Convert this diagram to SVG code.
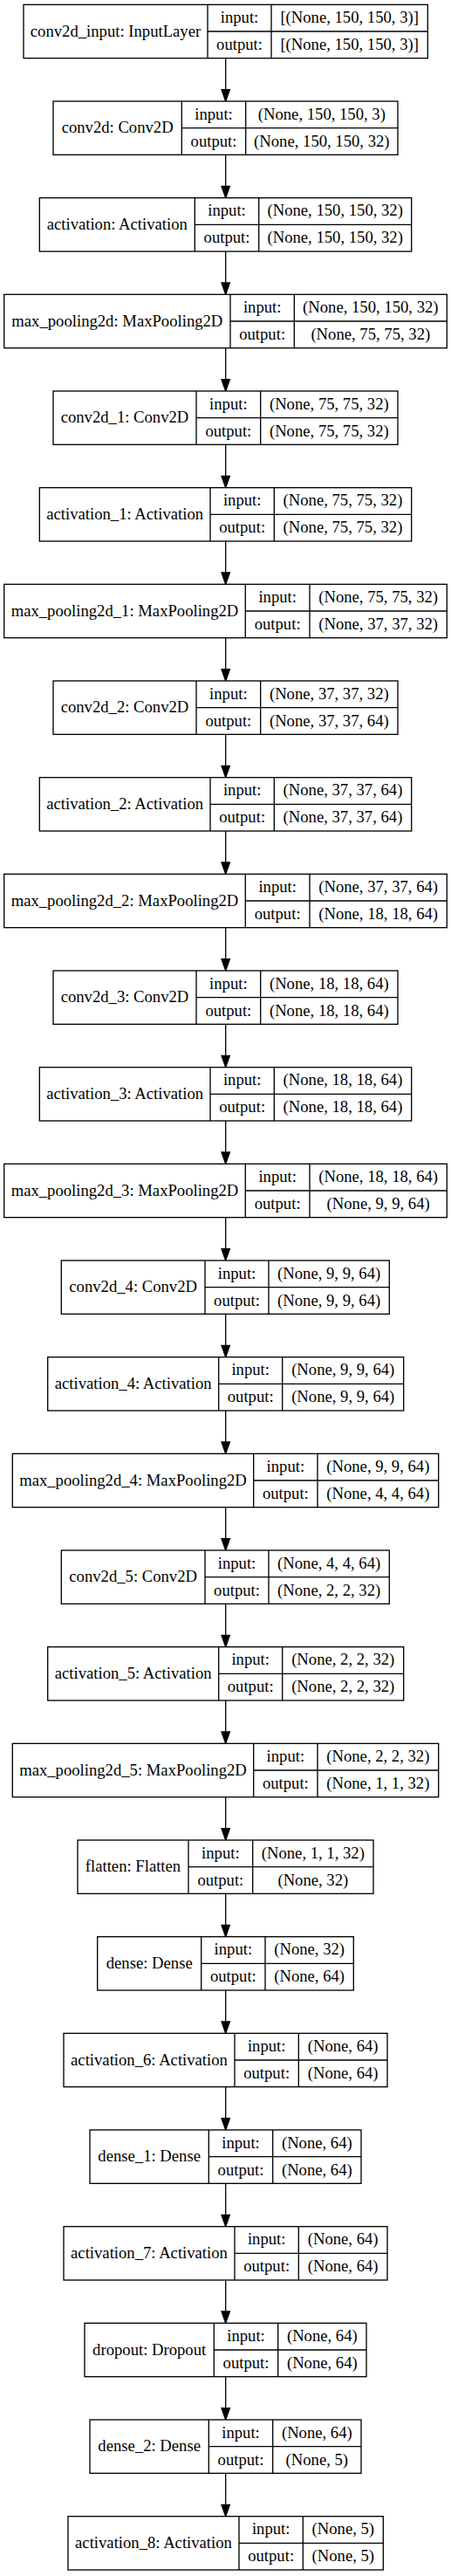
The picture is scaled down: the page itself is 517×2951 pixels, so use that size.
<svg xmlns="http://www.w3.org/2000/svg" width="517" height="2951" viewBox="0 0 517 2951">
<style>
.bg{fill:#fff}
.box{fill:#fff;stroke:#000;stroke-width:1.33}
.sep{stroke:#000;stroke-width:1.33;fill:none}
.edge{stroke:#000;stroke-width:1.33;fill:none;marker-end:url(#arr)}
text{font-family:"Liberation Serif","Times New Roman",serif;font-size:18.67px;text-anchor:middle;fill:#000}
</style>
<defs>
<marker id="arr" markerUnits="userSpaceOnUse" markerWidth="16" markerHeight="12" viewBox="-1 -1 16 12" refX="13.33" refY="4.67" orient="auto" overflow="visible">
<path d="M0,0 L13.33,4.67 L0,9.33 Z" fill="#000" stroke="#000" stroke-width="1.33"/>
</marker>
</defs>
<rect class="bg" x="0" y="0" width="517" height="2951"/>
<g id="edges">
<line class="edge" x1="258.67" y1="66.67" x2="258.67" y2="116.0"/>
<line class="edge" x1="258.67" y1="177.33" x2="258.67" y2="226.67"/>
<line class="edge" x1="258.67" y1="288.0" x2="258.67" y2="337.33"/>
<line class="edge" x1="258.67" y1="398.67" x2="258.67" y2="448.0"/>
<line class="edge" x1="258.67" y1="509.33" x2="258.67" y2="558.67"/>
<line class="edge" x1="258.67" y1="620.0" x2="258.67" y2="669.33"/>
<line class="edge" x1="258.67" y1="730.67" x2="258.67" y2="780.0"/>
<line class="edge" x1="258.67" y1="841.33" x2="258.67" y2="890.67"/>
<line class="edge" x1="258.67" y1="952.0" x2="258.67" y2="1001.33"/>
<line class="edge" x1="258.67" y1="1062.67" x2="258.67" y2="1112.0"/>
<line class="edge" x1="258.67" y1="1173.33" x2="258.67" y2="1222.67"/>
<line class="edge" x1="258.67" y1="1284.0" x2="258.67" y2="1333.33"/>
<line class="edge" x1="258.67" y1="1394.67" x2="258.67" y2="1444.0"/>
<line class="edge" x1="258.67" y1="1505.33" x2="258.67" y2="1554.67"/>
<line class="edge" x1="258.67" y1="1616.0" x2="258.67" y2="1665.33"/>
<line class="edge" x1="258.67" y1="1726.67" x2="258.67" y2="1776.0"/>
<line class="edge" x1="258.67" y1="1837.33" x2="258.67" y2="1886.67"/>
<line class="edge" x1="258.67" y1="1948.0" x2="258.67" y2="1997.33"/>
<line class="edge" x1="258.67" y1="2058.67" x2="258.67" y2="2108.0"/>
<line class="edge" x1="258.67" y1="2169.33" x2="258.67" y2="2218.67"/>
<line class="edge" x1="258.67" y1="2280.0" x2="258.67" y2="2329.33"/>
<line class="edge" x1="258.67" y1="2390.67" x2="258.67" y2="2440.0"/>
<line class="edge" x1="258.67" y1="2501.33" x2="258.67" y2="2550.67"/>
<line class="edge" x1="258.67" y1="2612.0" x2="258.67" y2="2661.33"/>
<line class="edge" x1="258.67" y1="2722.67" x2="258.67" y2="2772.0"/>
<line class="edge" x1="258.67" y1="2833.33" x2="258.67" y2="2882.67"/>
</g>

<g id="conv2d_input" transform="translate(0,5.33)">
<rect class="box" x="27" y="0" width="463.3" height="61.33"/>
<path class="sep" d="M238,0V61.33M311,0V61.33M238,30.67H490.3"/>
<text x="132.5" y="36.2">conv2d_input: InputLayer</text>
<text x="274.5" y="20.8">input:</text><text x="274.5" y="51.5">output:</text>
<text x="400.65" y="20.8">[(None, 150, 150, 3)]</text><text x="400.65" y="51.5">[(None, 150, 150, 3)]</text>
</g>

<g id="conv2d" transform="translate(0,116.0)">
<rect class="box" x="61" y="0" width="395" height="61.33"/>
<path class="sep" d="M208.3,0V61.33M281.7,0V61.33M208.3,30.67H456"/>
<text x="134.65" y="36.2">conv2d: Conv2D</text>
<text x="245" y="20.8">input:</text><text x="245" y="51.5">output:</text>
<text x="368.85" y="20.8">(None, 150, 150, 3)</text><text x="368.85" y="51.5">(None, 150, 150, 32)</text>
</g>

<g id="activation" transform="translate(0,226.67)">
<rect class="box" x="45.3" y="0" width="426.4" height="61.33"/>
<path class="sep" d="M223.3,0V61.33M296.7,0V61.33M223.3,30.67H471.7"/>
<text x="134.3" y="36.2">activation: Activation</text>
<text x="260" y="20.8">input:</text><text x="260" y="51.5">output:</text>
<text x="384.2" y="20.8">(None, 150, 150, 32)</text><text x="384.2" y="51.5">(None, 150, 150, 32)</text>
</g>

<g id="max_pooling2d" transform="translate(0,337.33)">
<rect class="box" x="4.7" y="0" width="507.6" height="61.33"/>
<path class="sep" d="M264,0V61.33M337.3,0V61.33M264,30.67H512.3"/>
<text x="134.35" y="36.2">max_pooling2d: MaxPooling2D</text>
<text x="300.65" y="20.8">input:</text><text x="300.65" y="51.5">output:</text>
<text x="424.8" y="20.8">(None, 150, 150, 32)</text><text x="424.8" y="51.5">(None, 75, 75, 32)</text>
</g>

<g id="conv2d_1" transform="translate(0,448.0)">
<rect class="box" x="61" y="0" width="395" height="61.33"/>
<path class="sep" d="M225,0V61.33M298.7,0V61.33M225,30.67H456"/>
<text x="143" y="36.2">conv2d_1: Conv2D</text>
<text x="261.85" y="20.8">input:</text><text x="261.85" y="51.5">output:</text>
<text x="377.35" y="20.8">(None, 75, 75, 32)</text><text x="377.35" y="51.5">(None, 75, 75, 32)</text>
</g>

<g id="activation_1" transform="translate(0,558.67)">
<rect class="box" x="45.3" y="0" width="426.4" height="61.33"/>
<path class="sep" d="M241,0V61.33M314.3,0V61.33M241,30.67H471.7"/>
<text x="143.15" y="36.2">activation_1: Activation</text>
<text x="277.65" y="20.8">input:</text><text x="277.65" y="51.5">output:</text>
<text x="393" y="20.8">(None, 75, 75, 32)</text><text x="393" y="51.5">(None, 75, 75, 32)</text>
</g>

<g id="max_pooling2d_1" transform="translate(0,669.33)">
<rect class="box" x="4.7" y="0" width="507.6" height="61.33"/>
<path class="sep" d="M281.3,0V61.33M355,0V61.33M281.3,30.67H512.3"/>
<text x="143" y="36.2">max_pooling2d_1: MaxPooling2D</text>
<text x="318.15" y="20.8">input:</text><text x="318.15" y="51.5">output:</text>
<text x="433.65" y="20.8">(None, 75, 75, 32)</text><text x="433.65" y="51.5">(None, 37, 37, 32)</text>
</g>

<g id="conv2d_2" transform="translate(0,780.0)">
<rect class="box" x="61" y="0" width="395" height="61.33"/>
<path class="sep" d="M225,0V61.33M298.7,0V61.33M225,30.67H456"/>
<text x="143" y="36.2">conv2d_2: Conv2D</text>
<text x="261.85" y="20.8">input:</text><text x="261.85" y="51.5">output:</text>
<text x="377.35" y="20.8">(None, 37, 37, 32)</text><text x="377.35" y="51.5">(None, 37, 37, 64)</text>
</g>

<g id="activation_2" transform="translate(0,890.67)">
<rect class="box" x="45.3" y="0" width="426.4" height="61.33"/>
<path class="sep" d="M241,0V61.33M314.3,0V61.33M241,30.67H471.7"/>
<text x="143.15" y="36.2">activation_2: Activation</text>
<text x="277.65" y="20.8">input:</text><text x="277.65" y="51.5">output:</text>
<text x="393" y="20.8">(None, 37, 37, 64)</text><text x="393" y="51.5">(None, 37, 37, 64)</text>
</g>

<g id="max_pooling2d_2" transform="translate(0,1001.33)">
<rect class="box" x="4.7" y="0" width="507.6" height="61.33"/>
<path class="sep" d="M281.3,0V61.33M355,0V61.33M281.3,30.67H512.3"/>
<text x="143" y="36.2">max_pooling2d_2: MaxPooling2D</text>
<text x="318.15" y="20.8">input:</text><text x="318.15" y="51.5">output:</text>
<text x="433.65" y="20.8">(None, 37, 37, 64)</text><text x="433.65" y="51.5">(None, 18, 18, 64)</text>
</g>

<g id="conv2d_3" transform="translate(0,1112.0)">
<rect class="box" x="61" y="0" width="395" height="61.33"/>
<path class="sep" d="M225,0V61.33M298.7,0V61.33M225,30.67H456"/>
<text x="143" y="36.2">conv2d_3: Conv2D</text>
<text x="261.85" y="20.8">input:</text><text x="261.85" y="51.5">output:</text>
<text x="377.35" y="20.8">(None, 18, 18, 64)</text><text x="377.35" y="51.5">(None, 18, 18, 64)</text>
</g>

<g id="activation_3" transform="translate(0,1222.67)">
<rect class="box" x="45.3" y="0" width="426.4" height="61.33"/>
<path class="sep" d="M241,0V61.33M314.3,0V61.33M241,30.67H471.7"/>
<text x="143.15" y="36.2">activation_3: Activation</text>
<text x="277.65" y="20.8">input:</text><text x="277.65" y="51.5">output:</text>
<text x="393" y="20.8">(None, 18, 18, 64)</text><text x="393" y="51.5">(None, 18, 18, 64)</text>
</g>

<g id="max_pooling2d_3" transform="translate(0,1333.33)">
<rect class="box" x="4.7" y="0" width="507.6" height="61.33"/>
<path class="sep" d="M281.3,0V61.33M355,0V61.33M281.3,30.67H512.3"/>
<text x="143" y="36.2">max_pooling2d_3: MaxPooling2D</text>
<text x="318.15" y="20.8">input:</text><text x="318.15" y="51.5">output:</text>
<text x="433.65" y="20.8">(None, 18, 18, 64)</text><text x="433.65" y="51.5">(None, 9, 9, 64)</text>
</g>

<g id="conv2d_4" transform="translate(0,1444.0)">
<rect class="box" x="70.3" y="0" width="376" height="61.33"/>
<path class="sep" d="M235,0V61.33M308,0V61.33M235,30.67H446.3"/>
<text x="152.65" y="36.2">conv2d_4: Conv2D</text>
<text x="271.5" y="20.8">input:</text><text x="271.5" y="51.5">output:</text>
<text x="377.15" y="20.8">(None, 9, 9, 64)</text><text x="377.15" y="51.5">(None, 9, 9, 64)</text>
</g>

<g id="activation_4" transform="translate(0,1554.67)">
<rect class="box" x="54.7" y="0" width="408" height="61.33"/>
<path class="sep" d="M250.7,0V61.33M323.7,0V61.33M250.7,30.67H462.7"/>
<text x="152.7" y="36.2">activation_4: Activation</text>
<text x="287.2" y="20.8">input:</text><text x="287.2" y="51.5">output:</text>
<text x="393.2" y="20.8">(None, 9, 9, 64)</text><text x="393.2" y="51.5">(None, 9, 9, 64)</text>
</g>

<g id="max_pooling2d_4" transform="translate(0,1665.33)">
<rect class="box" x="14.3" y="0" width="488.4" height="61.33"/>
<path class="sep" d="M290.7,0V61.33M364,0V61.33M290.7,30.67H502.7"/>
<text x="152.5" y="36.2">max_pooling2d_4: MaxPooling2D</text>
<text x="327.35" y="20.8">input:</text><text x="327.35" y="51.5">output:</text>
<text x="433.35" y="20.8">(None, 9, 9, 64)</text><text x="433.35" y="51.5">(None, 4, 4, 64)</text>
</g>

<g id="conv2d_5" transform="translate(0,1776.0)">
<rect class="box" x="70.3" y="0" width="376" height="61.33"/>
<path class="sep" d="M235,0V61.33M308,0V61.33M235,30.67H446.3"/>
<text x="152.65" y="36.2">conv2d_5: Conv2D</text>
<text x="271.5" y="20.8">input:</text><text x="271.5" y="51.5">output:</text>
<text x="377.15" y="20.8">(None, 4, 4, 64)</text><text x="377.15" y="51.5">(None, 2, 2, 32)</text>
</g>

<g id="activation_5" transform="translate(0,1886.67)">
<rect class="box" x="54.7" y="0" width="408" height="61.33"/>
<path class="sep" d="M250.7,0V61.33M323.7,0V61.33M250.7,30.67H462.7"/>
<text x="152.7" y="36.2">activation_5: Activation</text>
<text x="287.2" y="20.8">input:</text><text x="287.2" y="51.5">output:</text>
<text x="393.2" y="20.8">(None, 2, 2, 32)</text><text x="393.2" y="51.5">(None, 2, 2, 32)</text>
</g>

<g id="max_pooling2d_5" transform="translate(0,1997.33)">
<rect class="box" x="14.3" y="0" width="488.4" height="61.33"/>
<path class="sep" d="M290.7,0V61.33M364,0V61.33M290.7,30.67H502.7"/>
<text x="152.5" y="36.2">max_pooling2d_5: MaxPooling2D</text>
<text x="327.35" y="20.8">input:</text><text x="327.35" y="51.5">output:</text>
<text x="433.35" y="20.8">(None, 2, 2, 32)</text><text x="433.35" y="51.5">(None, 1, 1, 32)</text>
</g>

<g id="flatten" transform="translate(0,2108.0)">
<rect class="box" x="89" y="0" width="339" height="61.33"/>
<path class="sep" d="M216,0V61.33M289.7,0V61.33M216,30.67H428"/>
<text x="152.5" y="36.2">flatten: Flatten</text>
<text x="252.85" y="20.8">input:</text><text x="252.85" y="51.5">output:</text>
<text x="358.85" y="20.8">(None, 1, 1, 32)</text><text x="358.85" y="51.5">(None, 32)</text>
</g>

<g id="dense" transform="translate(0,2218.67)">
<rect class="box" x="111.7" y="0" width="293.6" height="61.33"/>
<path class="sep" d="M230.7,0V61.33M304,0V61.33M230.7,30.67H405.3"/>
<text x="171.2" y="36.2">dense: Dense</text>
<text x="267.35" y="20.8">input:</text><text x="267.35" y="51.5">output:</text>
<text x="354.65" y="20.8">(None, 32)</text><text x="354.65" y="51.5">(None, 64)</text>
</g>

<g id="activation_6" transform="translate(0,2329.33)">
<rect class="box" x="73" y="0" width="371" height="61.33"/>
<path class="sep" d="M269,0V61.33M342.3,0V61.33M269,30.67H444"/>
<text x="171" y="36.2">activation_6: Activation</text>
<text x="305.65" y="20.8">input:</text><text x="305.65" y="51.5">output:</text>
<text x="393.15" y="20.8">(None, 64)</text><text x="393.15" y="51.5">(None, 64)</text>
</g>

<g id="dense_1" transform="translate(0,2440.0)">
<rect class="box" x="103" y="0" width="311" height="61.33"/>
<path class="sep" d="M239.3,0V61.33M312.7,0V61.33M239.3,30.67H414"/>
<text x="171.15" y="36.2">dense_1: Dense</text>
<text x="276" y="20.8">input:</text><text x="276" y="51.5">output:</text>
<text x="363.35" y="20.8">(None, 64)</text><text x="363.35" y="51.5">(None, 64)</text>
</g>

<g id="activation_7" transform="translate(0,2550.67)">
<rect class="box" x="73" y="0" width="371" height="61.33"/>
<path class="sep" d="M269,0V61.33M342.3,0V61.33M269,30.67H444"/>
<text x="171" y="36.2">activation_7: Activation</text>
<text x="305.65" y="20.8">input:</text><text x="305.65" y="51.5">output:</text>
<text x="393.15" y="20.8">(None, 64)</text><text x="393.15" y="51.5">(None, 64)</text>
</g>

<g id="dropout" transform="translate(0,2661.33)">
<rect class="box" x="97" y="0" width="323" height="61.33"/>
<path class="sep" d="M245.3,0V61.33M318.7,0V61.33M245.3,30.67H420"/>
<text x="171.15" y="36.2">dropout: Dropout</text>
<text x="282" y="20.8">input:</text><text x="282" y="51.5">output:</text>
<text x="369.35" y="20.8">(None, 64)</text><text x="369.35" y="51.5">(None, 64)</text>
</g>

<g id="dense_2" transform="translate(0,2772.0)">
<rect class="box" x="103" y="0" width="311" height="61.33"/>
<path class="sep" d="M239.3,0V61.33M312.7,0V61.33M239.3,30.67H414"/>
<text x="171.15" y="36.2">dense_2: Dense</text>
<text x="276" y="20.8">input:</text><text x="276" y="51.5">output:</text>
<text x="363.35" y="20.8">(None, 64)</text><text x="363.35" y="51.5">(None, 5)</text>
</g>

<g id="activation_8" transform="translate(0,2882.67)">
<rect class="box" x="78" y="0" width="361.3" height="61.33"/>
<path class="sep" d="M274,0V61.33M347.3,0V61.33M274,30.67H439.3"/>
<text x="176" y="36.2">activation_8: Activation</text>
<text x="310.65" y="20.8">input:</text><text x="310.65" y="51.5">output:</text>
<text x="393.3" y="20.8">(None, 5)</text><text x="393.3" y="51.5">(None, 5)</text>
</g>
</svg>
